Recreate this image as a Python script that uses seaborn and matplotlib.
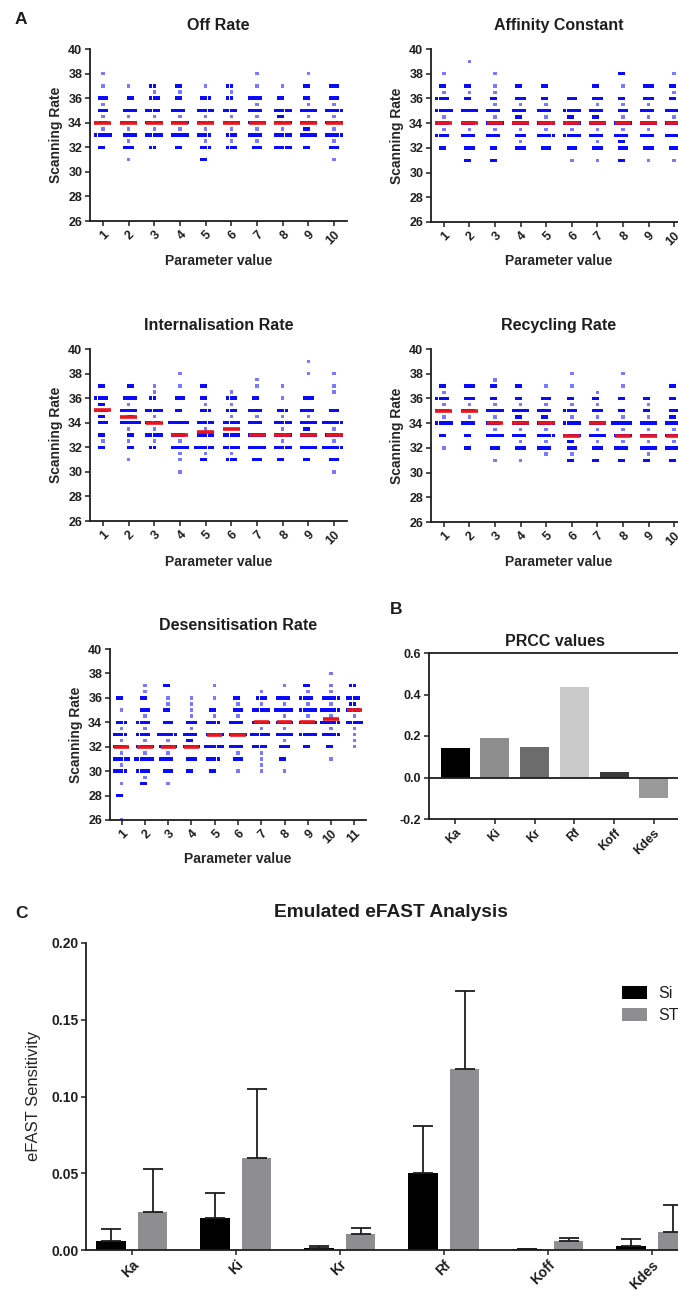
import numpy as np
import pandas as pd
import matplotlib
matplotlib.use("Agg")
import matplotlib.pyplot as plt
import seaborn as sns

# ---- data ----
# each dict: scanning-rate level -> number of runs at that level
OFF_RATE = [
    {38: 1, 37: 1, 36: 3, 35.5: 1, 35: 3, 34.5: 1, 34: 4, 33.5: 1, 33: 5, 32: 2},
    {37: 1, 36: 2, 35: 4, 34.5: 1, 34: 5, 33.5: 1, 33: 4, 32.5: 1, 32: 3, 31: 1},
    {37: 2, 36.5: 1, 36: 3, 35: 4, 34.5: 1, 34: 5, 33.5: 1, 33: 5, 32: 2},
    {37: 2, 36.5: 1, 36: 2, 35: 4, 34.5: 1, 34: 5, 33.5: 1, 33: 5, 32: 2},
    {37: 1, 36: 3, 35: 5, 34.5: 1, 34: 5, 33.5: 1, 33: 4, 32.5: 1, 32: 3, 31: 2},
    {37: 2, 36.5: 1, 36: 2, 35: 4, 34.5: 1, 34: 5, 33.5: 1, 33: 3, 32.5: 1, 32: 3},
    {38: 1, 37: 1, 36: 4, 35.5: 1, 35: 4, 34.5: 1, 34: 5, 33.5: 1, 33: 4, 32.5: 1, 32: 3},
    {37: 1, 36: 2, 35: 5, 34.5: 2, 34: 5, 33.5: 1, 33: 5, 32: 5},
    {38: 1, 37: 2, 36: 2, 35.5: 1, 35: 5, 34.5: 1, 34: 5, 33.5: 2, 33: 5, 32: 2},
    {37: 3, 36: 3, 35.5: 1, 35: 5, 34.5: 1, 34: 5, 33.5: 1, 33: 5, 32.5: 1, 32: 3, 31: 1},
]
OFF_RATE_MED = [34, 34, 34, 34, 34, 34, 34, 34, 34, 34]

AFFINITY = [
    {38: 1, 37: 2, 36.5: 1, 36: 4, 35: 5, 34.5: 1, 34: 4, 33.5: 1, 33: 4, 32: 2},
    {39: 1, 37: 2, 36.5: 1, 36: 2, 35: 5, 34: 4, 33.5: 1, 33: 4, 32: 3, 31: 2},
    {38: 1, 37: 1, 36.5: 1, 36: 2, 35.5: 1, 35: 4, 34.5: 1, 34: 5, 33.5: 1, 33: 4, 32: 2, 31: 2},
    {37: 2, 36: 3, 35.5: 1, 35: 4, 34.5: 2, 34: 5, 33.5: 1, 33: 3, 32.5: 1, 32: 3},
    {37: 2, 36: 2, 35.5: 1, 35: 4, 34.5: 1, 34: 5, 33.5: 1, 33: 5, 32: 3},
    {36: 3, 35: 5, 34.5: 2, 34: 5, 33.5: 1, 33: 5, 32: 3, 31: 1},
    {37: 2, 36: 3, 35.5: 1, 35: 4, 34.5: 2, 34: 5, 33.5: 1, 33: 4, 32.5: 1, 32: 3, 31: 1},
    {38: 2, 37: 1, 36: 2, 35.5: 1, 35: 3, 34.5: 1, 34: 5, 33.5: 1, 33: 4, 32.5: 2, 32: 3, 31: 2},
    {37: 3, 36: 3, 35.5: 1, 35: 4, 34.5: 1, 34: 5, 33.5: 1, 33: 4, 32: 3, 31: 1},
    {38: 1, 37: 2, 36.5: 1, 36: 2, 35: 5, 34.5: 1, 34: 5, 33: 5, 32: 3, 31: 1},
]
AFFINITY_MED = [34, 34, 34, 34, 34, 34, 34, 34, 34, 34]

INTERNALISATION = [
    {37: 2, 36: 4, 35.5: 2, 35: 4, 34.5: 2, 34: 3, 33: 2, 32.5: 1, 32: 2},
    {37: 2, 36: 4, 35.5: 1, 35: 5, 34.5: 2, 34: 6, 33.5: 1, 33: 2, 32.5: 1, 32: 2, 31: 1},
    {37: 1, 36.5: 1, 36: 2, 35: 5, 34.5: 1, 34: 4, 33.5: 1, 33: 5, 32.5: 1, 32: 2},
    {38: 1, 37: 1, 36: 3, 35: 2, 34: 6, 33: 4, 32.5: 1, 32: 5, 31.5: 1, 31: 1, 30: 1},
    {37: 2, 36: 2, 35.5: 1, 35: 3, 34: 5, 33.5: 1, 33: 5, 32: 6, 31.5: 1, 31: 2},
    {36.5: 1, 36: 3, 35.5: 1, 35: 3, 34.5: 1, 34: 5, 33: 5, 32: 5, 31.5: 1, 31: 3},
    {37.5: 1, 37: 1, 36: 2, 35: 4, 34.5: 1, 34: 4, 33: 5, 32: 5, 31: 3},
    {37: 1, 36: 1, 35: 3, 34.5: 1, 34: 5, 33.5: 1, 33: 5, 32.5: 1, 32: 5, 31: 2},
    {39: 1, 38: 1, 36: 3, 35: 4, 34.5: 1, 34: 5, 33.5: 2, 33: 5, 32: 5, 31: 2},
    {38: 1, 37: 1, 36.5: 1, 35: 3, 34: 6, 33.5: 1, 33: 5, 32.5: 1, 32: 6, 31: 3, 30: 1},
]
INTERNALISATION_MED = [35, 34.5, 34, 33, 33.25, 33.5, 33, 33, 33, 33]

RECYCLING = [
    {37: 2, 36.5: 1, 36: 4, 35.5: 1, 35: 4, 34.5: 1, 34: 5, 33: 2, 32: 1},
    {37: 3, 36: 3, 35.5: 1, 35: 4, 34.5: 1, 34: 4, 33: 2, 32: 2},
    {37.5: 1, 37: 2, 36: 2, 35.5: 1, 35: 5, 34.5: 1, 34: 4, 33.5: 1, 33: 5, 32: 3, 31: 1},
    {37: 2, 36: 2, 35.5: 1, 35: 5, 34.5: 2, 34: 5, 33.5: 1, 33: 4, 32.5: 1, 32: 3, 31: 1},
    {37: 1, 36: 3, 35.5: 1, 35: 4, 34.5: 2, 34: 5, 33.5: 1, 33: 5, 32.5: 1, 32: 4, 31.5: 1},
    {38: 1, 37: 1, 36: 2, 35.5: 1, 35: 4, 34.5: 1, 34: 5, 33: 5, 32.5: 2, 32: 3, 31.5: 1, 31: 2},
    {36.5: 1, 36: 2, 35.5: 1, 35: 3, 34.5: 1, 34: 5, 33.5: 1, 33: 5, 32.5: 1, 32: 3, 31: 2},
    {38: 1, 37: 1, 36: 2, 35: 2, 34.5: 1, 34: 6, 33.5: 1, 33: 5, 32.5: 1, 32: 4, 31: 2},
    {36: 2, 35.5: 1, 35: 2, 34.5: 1, 34: 5, 33.5: 1, 33: 5, 32.5: 1, 32: 5, 31.5: 1, 31: 2},
    {37: 2, 36: 2, 35: 3, 34.5: 2, 34: 5, 33.5: 1, 33: 5, 32.5: 1, 32: 5, 31: 2},
]
RECYCLING_MED = [35, 35, 34, 34, 34, 33, 34, 33, 33, 33]

DESENSITISATION = [
    {36: 2, 35: 1, 34: 3, 33.5: 1, 33: 4, 32.5: 1, 32: 4, 31.5: 1, 31: 5, 30.5: 1, 30: 4, 29: 1, 28: 2, 26: 1},
    {37: 1, 36.5: 1, 36: 2, 35: 3, 34.5: 1, 34: 4, 33.5: 1, 33: 4, 32.5: 1, 32: 5, 31.5: 1, 31: 6, 30: 4, 29.5: 1, 29: 2},
    {37: 2, 36: 1, 35.5: 1, 35: 2, 34: 3, 33: 6, 32.5: 1, 32: 5, 31.5: 1, 31: 4, 30: 3, 29: 1},
    {36: 1, 35.5: 1, 35: 1, 34.5: 1, 34: 3, 33.5: 1, 33: 4, 32.5: 2, 32: 5, 31: 3, 30: 2},
    {37: 1, 36: 1, 35: 2, 34.5: 1, 34: 4, 33: 5, 32: 6, 31: 4, 30: 2},
    {36: 2, 35.5: 1, 35: 3, 34.5: 1, 34: 4, 33: 5, 32: 4, 31.5: 1, 31: 3, 30: 1},
    {36.5: 1, 36: 3, 35.5: 1, 35: 5, 34: 5, 33.5: 1, 33: 6, 32: 4, 31.5: 1, 31: 1, 30.5: 1, 30: 1},
    {37: 1, 36: 4, 35.5: 1, 35: 6, 34.5: 1, 34: 5, 33.5: 1, 33: 5, 32.5: 1, 32: 3, 31: 2, 30: 1},
    {37: 2, 36.5: 1, 36: 4, 35.5: 1, 35: 5, 34.5: 1, 34: 5, 33: 5, 32: 2},
    {38: 1, 37: 1, 36.5: 1, 36: 5, 35.5: 1, 35: 6, 34.5: 1, 34: 6, 33.5: 1, 33: 5, 32: 2, 31: 1},
    {37: 2, 36: 4, 35.5: 2, 35: 4, 34.5: 1, 34: 5, 33.5: 1, 33: 1, 32.5: 1, 32: 1},
]
DESENSITISATION_MED = [32, 32, 32, 32, 33, 33, 34, 34, 34, 34.25, 35]

PRCC_PARAMS = ["Ka", "Ki", "Kr", "Rf", "Koff", "Kdes"]
PRCC_VALUES = [0.140, 0.188, 0.148, 0.435, 0.026, -0.097]
PRCC_COLORS = ["#000000", "#8e8e8e", "#6c6c6c", "#c9c9c9", "#3a3a3a", "#999999"]

EFAST_PARAMS = ["Ka", "Ki", "Kr", "Rf", "Koff", "Kdes"]
SI_VALUES = [0.006, 0.021, 0.0015, 0.050, 0.0006, 0.0025]
SI_ERR = [0.008, 0.016, 0.0013, 0.031, 0.0003, 0.0045]
ST_VALUES = [0.025, 0.060, 0.0104, 0.118, 0.0058, 0.012]
ST_ERR = [0.028, 0.045, 0.004, 0.051, 0.0022, 0.017]

BLUE = "#0a0aff"
LIGHT_BLUE = "#7a7aff"
RED = "#e8141e"
INK = "#1e1e1e"

sns.set_style("ticks")
plt.rcParams["font.family"] = ["Liberation Sans", "DejaVu Sans"]
plt.rcParams["axes.unicode_minus"] = False
plt.rcParams["axes.edgecolor"] = INK
plt.rcParams["axes.linewidth"] = 1.3
plt.rcParams["xtick.color"] = INK
plt.rcParams["ytick.color"] = INK
plt.rcParams["text.color"] = INK

W, H = 678, 1291
fig = plt.figure(figsize=(W / 100, H / 100), dpi=100)


def add_ax(left, top, right, bottom):
    return fig.add_axes([left / W, 1 - bottom / H, (right - left) / W, (bottom - top) / H])


def long_form(groups):
    rows = []
    for i, levels in enumerate(groups, start=1):
        for value, count in levels.items():
            rows += [(str(i), value, count == 1)] * count
    return pd.DataFrame(rows, columns=["param", "rate", "single"])


def style_ticks(ax, size=9):
    ax.tick_params(direction="out", length=3.5, width=1.1, labelsize=size, pad=2)
    for lbl in ax.get_xticklabels() + ax.get_yticklabels():
        lbl.set_fontweight("bold")
    for lbl in ax.get_xticklabels():
        lbl.set_rotation(45)
        lbl.set_horizontalalignment("right")
        lbl.set_rotation_mode("anchor")


def dot_panel(rect, groups, medians, title, title_pad, xlab_y, ylab_x):
    ax = add_ax(*rect)
    df = long_form(groups)
    order = [str(i) for i in range(1, len(groups) + 1)]
    sns.swarmplot(data=df, x="param", y="rate", order=order, hue="single",
                  palette={True: LIGHT_BLUE, False: BLUE}, legend=False,
                  marker="s", size=2.45, linewidth=0, ax=ax, zorder=2)
    x = np.arange(len(medians))
    ax.hlines(medians, x - 0.33, x + 0.33, color=RED, lw=2.6, zorder=3)
    ax.set_xlim(-0.5, len(groups) - 0.5)
    ax.set_ylim(26, 40)
    ax.set_yticks(range(26, 41, 2))
    sns.despine(ax=ax)
    ax.set_title(title, fontsize=11.5, fontweight="bold", pad=title_pad)
    ax.set_xlabel("Parameter value", fontsize=10, fontweight="bold")
    ax.set_ylabel("Scanning Rate", fontsize=10, fontweight="bold")
    ax.xaxis.set_label_coords(((rect[0] + rect[2]) / 2) / W, 1 - xlab_y / H, transform=fig.transFigure)
    ax.yaxis.set_label_coords(ylab_x / W, 1 - ((rect[1] + rect[3]) / 2) / H, transform=fig.transFigure)
    style_ticks(ax)
    return ax


dot_panel((90, 49, 347, 221), OFF_RATE, OFF_RATE_MED, "Off Rate", 13.5, 254, 63)
dot_panel((431, 49, 687, 222), AFFINITY, AFFINITY_MED, "Affinity Constant", 13.5, 254, 404)
dot_panel((90, 349, 347, 521), INTERNALISATION, INTERNALISATION_MED, "Internalisation Rate", 13.5, 555, 63)
dot_panel((431, 349, 687, 522), RECYCLING, RECYCLING_MED, "Recycling Rate", 13.5, 555, 404)
dot_panel((110, 649, 366, 820), DESENSITISATION, DESENSITISATION_MED, "Desensitisation Rate", 14, 852, 83)

# ---- B: PRCC ----
axB = add_ax(429, 653, 680, 819)
sns.barplot(x=PRCC_PARAMS, y=PRCC_VALUES, hue=PRCC_PARAMS, palette=PRCC_COLORS,
            legend=False, width=0.73, saturation=1, linewidth=0, ax=axB)
axB.axhline(0, color=INK, lw=1.3, zorder=3)
axB.set_xlim(-0.66, 5.66)
axB.set_ylim(-0.2, 0.6)
axB.set_yticks([-0.2, 0.0, 0.2, 0.4, 0.6])
axB.set_yticklabels(["-0.2", "0.0", "0.2", "0.4", "0.6"])
axB.set_title("PRCC values", fontsize=11.5, fontweight="bold", pad=5)
style_ticks(axB)

# ---- C: eFAST ----
axC = add_ax(86, 943, 710, 1250)
efast = pd.DataFrame({
    "param": EFAST_PARAMS * 2,
    "index": ["Si"] * len(EFAST_PARAMS) + ["ST"] * len(EFAST_PARAMS),
    "value": SI_VALUES + ST_VALUES,
})
sns.barplot(data=efast, x="param", y="value", hue="index", order=EFAST_PARAMS,
            palette=["#000000", "#8e8e91"], saturation=1, width=0.8, gap=0.3,
            linewidth=0, legend=False, ax=axC)
for bars, errs in zip(axC.containers, [SI_ERR, ST_ERR]):
    xs = [b.get_x() + b.get_width() / 2 for b in bars]
    hs = [b.get_height() for b in bars]
    axC.errorbar(xs, hs, yerr=[np.zeros(len(errs)), errs], fmt="none", ecolor=INK,
                 elinewidth=1.3, capsize=7, capthick=1.3, zorder=1)
axC.set_xlim(-0.44, 5.56)
axC.set_ylim(0, 0.2)
axC.set_yticks([0, 0.05, 0.10, 0.15, 0.20])
axC.set_yticklabels(["0.00", "0.05", "0.10", "0.15", "0.20"])
sns.despine(ax=axC)
axC.set_xlabel("")
axC.set_ylabel("eFAST Sensitivity", fontsize=12)
axC.yaxis.set_label_coords(41 / W, 1 - 1096 / H, transform=fig.transFigure)
axC.set_title("Emulated eFAST Analysis", fontsize=13.8, fontweight="bold", pad=18.5, x=0.489)
style_ticks(axC, size=10)
axC.legend(axC.containers, ["Si", "ST"], loc="upper left", bbox_to_anchor=(622 / W, 1 - 986 / H),
           bbox_transform=fig.transFigure, frameon=False, fontsize=11.5, borderpad=0,
           borderaxespad=0, handlelength=1.55, handleheight=0.9, handletextpad=0.7,
           labelspacing=0.4)

# panel letters
fig.text(15 / W, 1 - 24 / H, "A", fontsize=12.5, fontweight="bold")
fig.text(390 / W, 1 - 614 / H, "B", fontsize=12.5, fontweight="bold")
fig.text(15 / W, 1 - 918 / H, "C", fontsize=12.5, fontweight="bold")

fig.savefig("out.png", dpi=100)
